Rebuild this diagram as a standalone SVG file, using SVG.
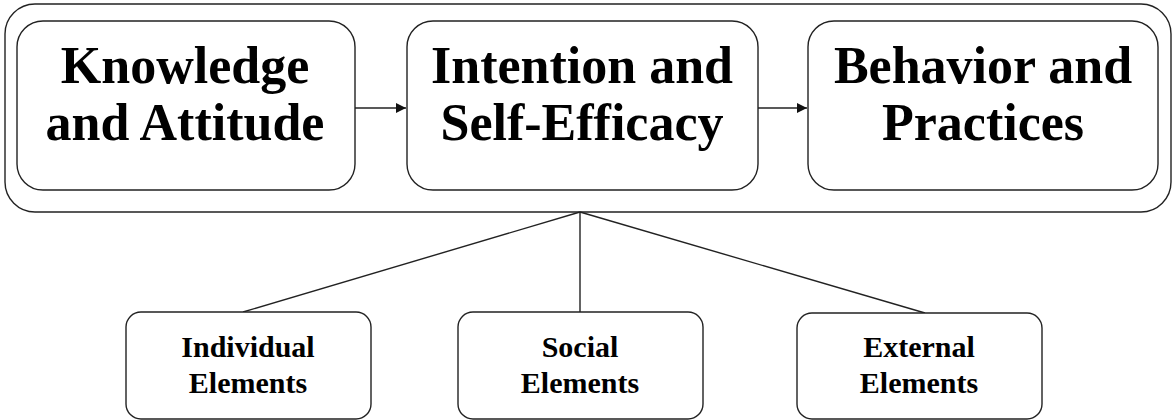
<svg xmlns="http://www.w3.org/2000/svg" width="1173" height="420" viewBox="0 0 1173 420">
  <style>
    .box { fill: #ffffff; stroke: #222222; stroke-width: 1.4; }
    .big { font-family: "Liberation Serif", "Times New Roman", serif; font-weight: bold; font-size: 52px; fill: #000000; text-anchor: middle; }
    .small { font-family: "Liberation Serif", "Times New Roman", serif; font-weight: bold; font-size: 30px; fill: #000000; text-anchor: middle; }
    .link { fill: none; stroke: #222222; stroke-width: 1.4; }
  </style>
  <defs>
    <marker id="arrow" viewBox="0 0 10 10" refX="10" refY="5" markerWidth="10" markerHeight="10" markerUnits="userSpaceOnUse" orient="auto">
      <path d="M0,0 L10,5 L0,10 z" fill="#111111"/>
    </marker>
  </defs>
  <rect width="1173" height="420" fill="#ffffff"/>

  <!-- enclosing frame -->
  <g id="frame">
    <rect class="box" x="5" y="4" width="1166" height="208" rx="30" ry="30"/>
  </g>

  <!-- connectors -->
  <g id="connectors">
    <line class="link" x1="355" y1="108" x2="406" y2="108" marker-end="url(#arrow)"/>
    <line class="link" x1="758" y1="108" x2="807" y2="108" marker-end="url(#arrow)"/>
    <line class="link" x1="580" y1="212" x2="243" y2="312"/>
    <line class="link" x1="580" y1="212" x2="580" y2="312"/>
    <line class="link" x1="580" y1="212" x2="925" y2="313"/>
  </g>

  <g id="knowledge">
    <rect class="box" x="17" y="21" width="338" height="169" rx="26" ry="26"/>
    <text class="big" x="185" y="83">Knowledge</text>
    <text class="big" x="185" y="140">and Attitude</text>
  </g>

  <g id="intention">
    <rect class="box" x="407" y="21" width="351" height="169" rx="26" ry="26"/>
    <text class="big" x="582" y="83">Intention and</text>
    <text class="big" x="582" y="140">Self-Efficacy</text>
  </g>

  <g id="behavior">
    <rect class="box" x="808" y="21" width="350" height="169" rx="26" ry="26"/>
    <text class="big" x="983" y="83">Behavior and</text>
    <text class="big" x="983" y="140">Practices</text>
  </g>

  <g id="individual">
    <rect class="box" x="126" y="312" width="245" height="107" rx="15" ry="15"/>
    <text class="small" x="248" y="357">Individual</text>
    <text class="small" x="248" y="393">Elements</text>
  </g>

  <g id="social">
    <rect class="box" x="458" y="312" width="245" height="107" rx="15" ry="15"/>
    <text class="small" x="580" y="357">Social</text>
    <text class="small" x="580" y="393">Elements</text>
  </g>

  <g id="external">
    <rect class="box" x="797" y="313" width="245" height="106" rx="15" ry="15"/>
    <text class="small" x="919" y="357">External</text>
    <text class="small" x="919" y="393">Elements</text>
  </g>
</svg>
